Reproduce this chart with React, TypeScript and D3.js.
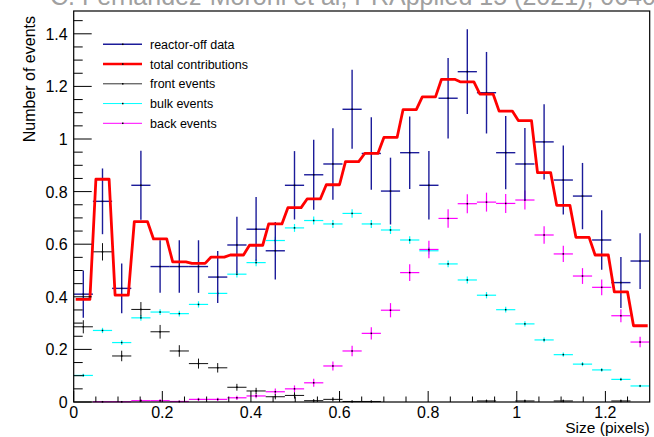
import React from 'react';
import * as d3 from 'd3';

// 30 bins over 0..1.3 pixels
const nBins = 30;
const xMax = 1.3;

const dataVals = [0.41, 0.763, 0.432, 0.824, 0.515, 0.515, 0.515, 0.475, 0.597, 0.657, 0.575, 0.824, 0.864, 0.905, 1.113, 0.945, 0.802, 0.948, 0.824, 1.155, 1.256, 1.176, 0.948, 0.905, 0.989, 0.844, 0.783, 0.616, 0.454, 0.536];
const dataErrs = [0.09, 0.125, 0.095, 0.131, 0.1, 0.1, 0.1, 0.099, 0.107, 0.122, 0.109, 0.13, 0.133, 0.136, 0.15, 0.138, 0.127, 0.138, 0.13, 0.153, 0.161, 0.155, 0.139, 0.137, 0.143, 0.131, 0.126, 0.113, 0.097, 0.106];

const totalVals = [0.39, 0.847, 0.406, 0.686, 0.62, 0.533, 0.527, 0.551, 0.559, 0.596, 0.677, 0.739, 0.772, 0.826, 0.914, 0.945, 1.006, 1.112, 1.16, 1.227, 1.217, 1.171, 1.106, 1.07, 0.872, 0.748, 0.626, 0.559, 0.419, 0.29];

const frontVals = [0.286, 0.571, 0.175, 0.352, 0.267, 0.194, 0.146, 0.13, 0.056, 0.042, 0.02, 0.025, 0.005, 0.01, 0.002, 0.002, 0, 0, 0, 0, 0, 0.004, 0, 0.004, 0, 0.004, 0, 0, 0.004, 0];
const frontErrs = [0.025, 0.033, 0.02, 0.028, 0.026, 0.022, 0.019, 0.018, 0.013, 0.012, 0.01, 0.012, 0.006, 0.008, 0.004, 0.004, 0, 0, 0, 0, 0, 0.005, 0, 0.005, 0, 0.005, 0, 0, 0.005, 0];

const bulkVals = [0.101, 0.272, 0.226, 0.32, 0.342, 0.336, 0.371, 0.413, 0.486, 0.53, 0.614, 0.662, 0.69, 0.677, 0.717, 0.677, 0.654, 0.616, 0.575, 0.525, 0.464, 0.406, 0.351, 0.297, 0.236, 0.18, 0.144, 0.122, 0.086, 0.061];
const bulkErrs = [0.006, 0.01, 0.009, 0.011, 0.011, 0.011, 0.012, 0.012, 0.013, 0.014, 0.014, 0.015, 0.015, 0.015, 0.016, 0.015, 0.015, 0.014, 0.014, 0.013, 0.013, 0.012, 0.011, 0.01, 0.009, 0.008, 0.008, 0.007, 0.006, 0.005];

const backVals = [0, 0.001, 0.001, 0.005, 0.005, 0.002, 0.01, 0.01, 0.016, 0.023, 0.039, 0.05, 0.073, 0.137, 0.194, 0.261, 0.349, 0.492, 0.58, 0.698, 0.754, 0.76, 0.755, 0.768, 0.635, 0.563, 0.479, 0.436, 0.328, 0.228];
const backErrs = [0, 0.003, 0.003, 0.005, 0.005, 0.004, 0.006, 0.006, 0.008, 0.009, 0.012, 0.013, 0.015, 0.017, 0.02, 0.023, 0.027, 0.032, 0.033, 0.035, 0.036, 0.036, 0.036, 0.036, 0.033, 0.031, 0.03, 0.03, 0.025, 0.02];

const xTicks = [0, 0.2, 0.4, 0.6, 0.8, 1, 1.2];
const yTicks = [0, 0.2, 0.4, 0.6, 0.8, 1, 1.2, 1.4];

const legendItems = [
  { label: 'reactor-off data', color: '#1c1c9a', width: 1.4 },
  { label: 'total contributions', color: '#ff0000', width: 2.6 },
  { label: 'front events', color: '#333333', width: 1 },
  { label: 'bulk events', color: '#00ffff', width: 1 },
  { label: 'back events', color: '#ff00ff', width: 1 },
];

const font = '"Liberation Sans", Arial, Helvetica, sans-serif';

const W = 654;
const H = 437;
const left = 73.7;
const right = 649.7;
const top = 11;
const bottom = 402;

const x = d3.scaleLinear().domain([0, xMax]).range([left, right]);
const y = d3.scaleLinear().domain([0, 1.4867]).range([bottom, top]);
const binW = xMax / nBins;
const edges = d3.range(nBins + 1).map((i) => i * binW);

const Crosses = ({ vals, errs, color, width }) => (
  <g stroke={color} strokeWidth={width}>
    {vals.map((v, i) => {
      if (v <= 0) return null;
      const cx = x(edges[i] + binW / 2);
      return (
        <g key={i}>
          <line x1={x(edges[i])} x2={x(edges[i + 1])} y1={y(v)} y2={y(v)} />
          {errs[i] > 0 && <line x1={cx} x2={cx} y1={y(v - errs[i])} y2={y(v + errs[i])} />}
          <rect x={cx - 0.75} y={y(v) - 0.75} width={1.5} height={1.5} fill="#000" stroke="none" />
        </g>
      );
    })}
  </g>
);

export default function App() {
  // total histogram: flat steps with short slanted joins at the bin edges
  const d = 3;
  const pts = [];
  totalVals.forEach((v, i) => {
    const a = i === 0 ? x(edges[i]) + 2 : x(edges[i]) + d;
    const b = i === nBins - 1 ? x(edges[i + 1]) - 2 : x(edges[i + 1]) - d;
    pts.push([a, y(v)], [b, y(v)]);
  });
  const totalPath = d3.line()(pts);

  const minorX = d3.range(0, 1.3, 0.05).filter((t) => Math.abs(t / 0.2 - Math.round(t / 0.2)) > 1e-6);
  const minorY = d3.range(0, 1.48, 0.05).filter((t) => Math.abs(t / 0.2 - Math.round(t / 0.2)) > 1e-6);

  return (
    <svg width={W} height={H} style={{ position: 'absolute', left: 0, top: 0, background: '#fff' }} fontFamily={font}>
      <text x={50} y={5} fontSize={25} fill="#a0a0a0">C. Fernandez-Moroni et al, PRApplied 15 (2021), 064026</text>

      <Crosses vals={bulkVals} errs={bulkErrs} color="#00ffff" width={1.2} />
      <Crosses vals={backVals} errs={backErrs} color="#ff00ff" width={1.2} />
      <Crosses vals={frontVals} errs={frontErrs} color="#111111" width={1} />
      <Crosses vals={dataVals} errs={dataErrs} color="#1c1c9a" width={1.4} />
      <path d={totalPath} fill="none" stroke="#ff0000" strokeWidth={2.8} strokeLinejoin="round" />

      {/* frame and ticks */}
      <rect x={left} y={top} width={right - left} height={bottom - top} fill="none" stroke="#000" strokeWidth={1.2} />
      <g stroke="#000" strokeWidth={1}>
        {xTicks.map((t) => <line key={'xM' + t} x1={x(t)} x2={x(t)} y1={bottom} y2={bottom - 11} />)}
        {minorX.map((t) => <line key={'xm' + t} x1={x(t)} x2={x(t)} y1={bottom} y2={bottom - 5.5} />)}
        {yTicks.map((t) => <line key={'yM' + t} x1={left} x2={left + 18} y1={y(t)} y2={y(t)} />)}
        {minorY.map((t) => <line key={'ym' + t} x1={left} x2={left + 9} y1={y(t)} y2={y(t)} />)}
      </g>
      <g fontSize={16} fill="#000">
        {xTicks.map((t) => (
          <text key={'xl' + t} x={x(t)} y={bottom + 16} textAnchor="middle">{d3.format('~g')(t)}</text>
        ))}
        {yTicks.map((t) => (
          <text key={'yl' + t} x={left - 6} y={y(t) + 6} textAnchor="end">{d3.format('~g')(t)}</text>
        ))}
      </g>
      <text x={right} y={433} fontSize={15.5} textAnchor="end">Size (pixels)</text>
      <text transform={`translate(35,${top + 5}) rotate(-90)`} fontSize={16} textAnchor="end">Number of events</text>

      {/* legend */}
      <g fontSize={12.5}>
        {legendItems.map((it, i) => {
          const ly = 44.3 + i * 19.75;
          return (
            <g key={it.label}>
              <line x1={103} x2={142} y1={ly} y2={ly} stroke={it.color} strokeWidth={it.width} />
              <rect x={122} y={ly - 0.75} width={1.5} height={1.5} fill="#000" />
              <text x={150} y={ly + 4.5}>{it.label}</text>
            </g>
          );
        })}
      </g>
    </svg>
  );
}
